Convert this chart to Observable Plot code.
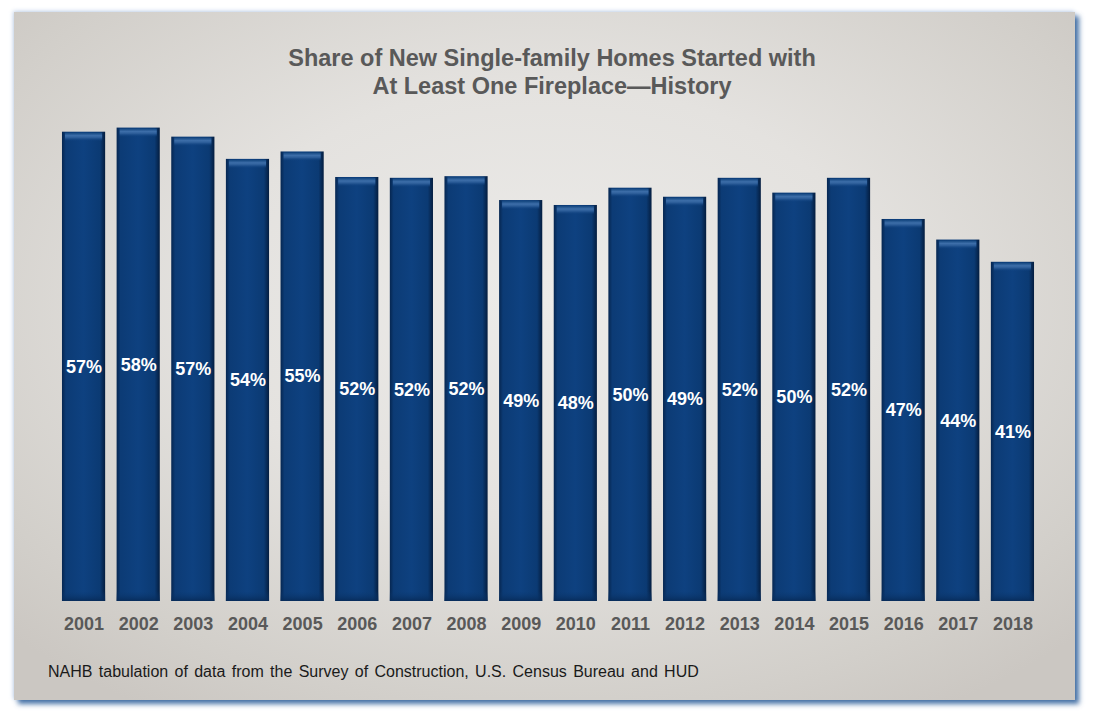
<!DOCTYPE html>
<html>
<head>
<meta charset="utf-8">
<script src="https://cdn.jsdelivr.net/npm/d3@7"></script>
<script src="https://cdn.jsdelivr.net/npm/@observablehq/plot@0.6"></script>
<style>
  html, body { margin: 0; padding: 0; background: #ffffff; width: 1095px; height: 722px; overflow: hidden; }
  #panel {
    position: absolute; left: 14px; top: 12px; width: 1061px; height: 688px;
    background: radial-gradient(ellipse 70% 70% at 50% 42%, #ecebe9 0%, #e4e2df 45%, #d2cfca 85%, #cbc7c2 100%);
    box-shadow: 4px 4px 5px rgba(40, 90, 150, 0.85), -1px -1px 4px rgba(130, 165, 210, 0.45);
    font-family: "Liberation Sans", Arial, sans-serif;
  }
  #title {
    position: absolute; left: 0; top: 32px; width: 1076px; text-align: center;
    font-size: 23.5px; font-weight: bold; line-height: 28px; color: #595959;
  }
  #chart { position: absolute; left: 0; top: 88px; }
  #caption {
    position: absolute; left: 34px; top: 651px; font-size: 16px; color: #1a1a1a; word-spacing: 1.9px;
  }
</style>
</head>
<body>
<div id="panel">
  <div id="title">Share of New Single-family Homes Started with<br>At Least One Fireplace—History</div>
  <div id="chart"></div>
  <div id="caption">NAHB tabulation of data from the Survey of Construction, U.S. Census Bureau and HUD</div>
</div>
<script>
const years = ["2001","2002","2003","2004","2005","2006","2007","2008","2009","2010","2011","2012","2013","2014","2015","2016","2017","2018"];
const shares = [57.0, 57.5, 56.4, 53.7, 54.6, 51.5, 51.4, 51.6, 48.7, 48.1, 50.2, 49.1, 51.4, 49.6, 51.4, 46.4, 43.9, 41.2];
const labels = ["57%","58%","57%","54%","55%","52%","52%","52%","49%","48%","50%","49%","52%","50%","52%","47%","44%","41%"];

const data = years.map((year, i) => ({year, share: shares[i], label: labels[i]}));

const chart = Plot.plot({
  width: 1061,
  height: 545,
  marginLeft: 36.5,
  marginRight: 29.5,
  marginTop: 7,
  marginBottom: 44,
  style: {background: "transparent", fontFamily: "'Liberation Sans', Arial, sans-serif", color: "#595959", overflow: "visible"},
  x: {domain: years, padding: 0.21, round: false, label: null},
  y: {domain: [0, 60], axis: null},
  marks: [
    Plot.barY(data, {x: "year", y: "share", fill: "url(#barGrad)"}),
    Plot.barY(data, {x: "year", y1: d => d.share - 1.15, y2: "share", fill: "url(#bevelGrad)", insetLeft: 3, insetRight: 3, insetTop: 1}),
    Plot.barY(data, {x: "year", y1: 0, y2: 1.2, fill: "url(#bottomGrad)"}),
    Plot.text(data, {x: "year", y: d => d.share / 2, text: "label", fill: "white", fontSize: 18, fontWeight: "bold"}),
    Plot.axisX({tickSize: 0, tickPadding: 16, fontSize: 18, fontWeight: "bold", label: null, color: "#595959"})
  ]
});

const ns = "http://www.w3.org/2000/svg";
const defs = document.createElementNS(ns, "defs");
defs.innerHTML = `
  <linearGradient id="barGrad" x1="0" y1="0" x2="1" y2="0">
    <stop offset="0" stop-color="#062650"/>
    <stop offset="0.09" stop-color="#0c3b75"/>
    <stop offset="0.5" stop-color="#0e4180"/>
    <stop offset="0.88" stop-color="#0b3a73"/>
    <stop offset="1" stop-color="#041d3f"/>
  </linearGradient>
  <linearGradient id="bevelGrad" x1="0" y1="0" x2="0" y2="1">
    <stop offset="0" stop-color="#13467f"/>
    <stop offset="0.35" stop-color="#3d6ea9"/>
    <stop offset="0.6" stop-color="#2a5b97"/>
    <stop offset="1" stop-color="#0e4180" stop-opacity="0"/>
  </linearGradient>
  <linearGradient id="bottomGrad" x1="0" y1="0" x2="0" y2="1">
    <stop offset="0" stop-color="#0b3a73" stop-opacity="0"/>
    <stop offset="1" stop-color="#072a57" stop-opacity="0.9"/>
  </linearGradient>`;
chart.insertBefore(defs, chart.firstChild);
document.getElementById("chart").appendChild(chart);
</script>
</body>
</html>
